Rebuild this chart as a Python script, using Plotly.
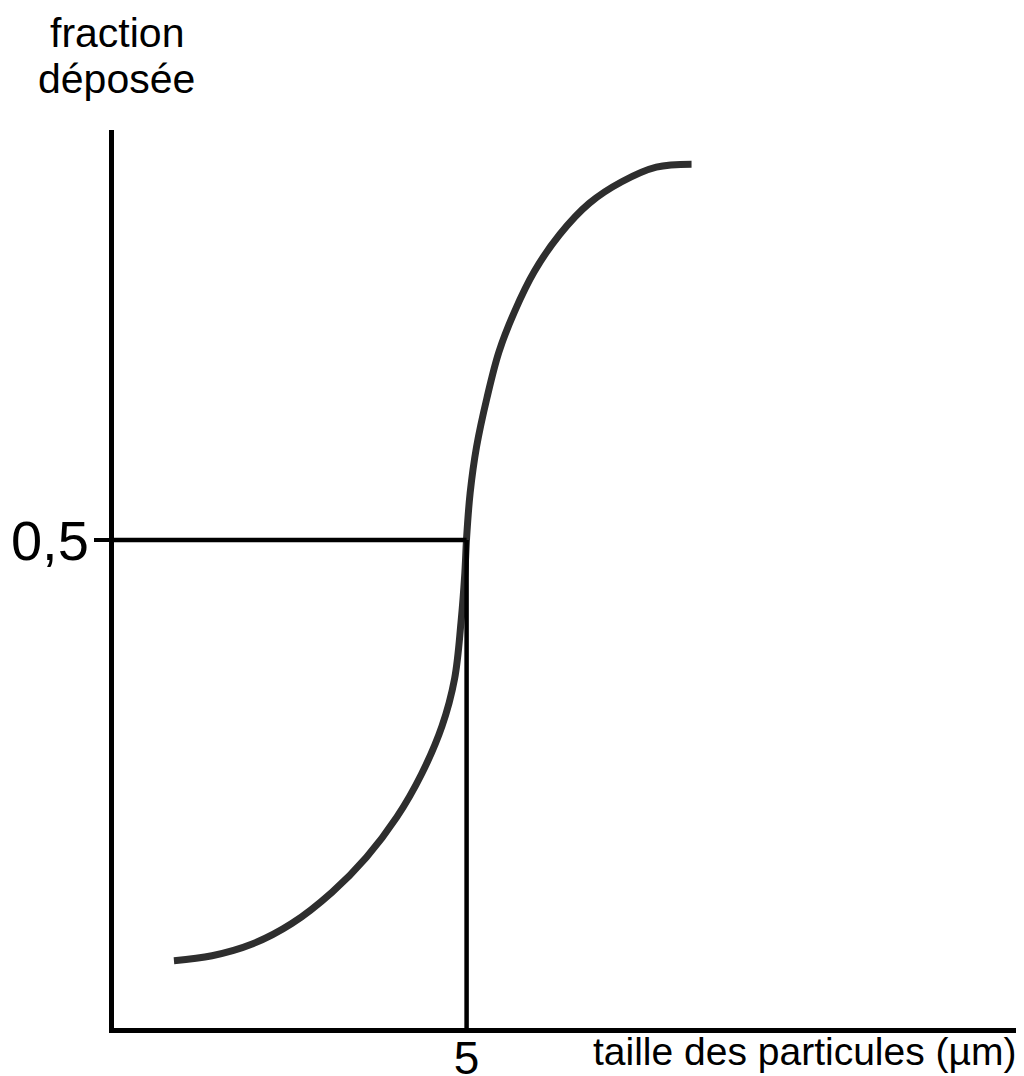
import plotly.graph_objects as go

# particle size (µm) vs deposited fraction
size_um = [0.85, 1.39, 1.96, 2.52, 3.09, 3.58, 4.01, 4.36, 4.65, 4.83, 4.92, 4.975,
           5.00, 5.05, 5.14, 5.29, 5.46, 5.68, 5.96, 6.32, 6.74, 7.20, 7.69, 8.19]
fraction = [0.069, 0.074, 0.086, 0.107, 0.139, 0.175, 0.216, 0.260, 0.309, 0.358, 0.415, 0.466,
            0.502, 0.548, 0.595, 0.646, 0.693, 0.734, 0.775, 0.813, 0.845, 0.867, 0.882, 0.885]

d50 = 5
half = 0.5
x_ticks = [5]
x_tick_labels = ["5"]
y_ticks = [0.5]
y_tick_labels = ["0,5"]
y_title_lines = ["fraction", "déposée"]
x_title = "taille des particules (µm)"

FONT = "Liberation Sans, Arial, sans-serif"

fig = go.Figure()
fig.add_trace(go.Scatter(x=size_um, y=fraction, mode="lines",
                         line=dict(color="#2e2e2e", width=7, shape="spline", smoothing=1.0),
                         hoverinfo="skip"))
fig.add_trace(go.Scatter(x=[0, d50], y=[half, half], mode="lines",
                         line=dict(color="black", width=4.5), hoverinfo="skip"))
fig.add_trace(go.Scatter(x=[d50, d50], y=[half, 0], mode="lines",
                         line=dict(color="black", width=4.5), hoverinfo="skip"))

annotations = []
for line, shift in zip(y_title_lines, [97, 51]):
    annotations.append(dict(text=line, xref="paper", yref="paper",
                            x=0.003, y=1.0, xanchor="center", yanchor="middle", yshift=shift,
                            showarrow=False, font=dict(size=41, family=FONT)))
annotations.append(dict(text=x_title, xref="paper", yref="paper",
                        x=1.0, y=0, xanchor="right", yanchor="top", yshift=0, xshift=-4,
                        showarrow=False, font=dict(size=39, family=FONT)))

fig.update_layout(
    width=1024, height=1076,
    margin=dict(l=106, r=10, t=122, b=56),
    paper_bgcolor="white", plot_bgcolor="white",
    showlegend=False,
    font=dict(family=FONT, color="black"),
    xaxis=dict(range=[0, 12.876], showgrid=False, zeroline=False, automargin=False,
               showline=True, linecolor="black", linewidth=5,
               tickmode="array", tickvals=x_ticks, ticktext=x_tick_labels,
               ticks="", ticklabelstandoff=-14, tickfont=dict(size=46, family=FONT)),
    yaxis=dict(range=[0, 0.920], showgrid=False, zeroline=False, automargin=False,
               showline=True, linecolor="black", linewidth=5,
               tickmode="array", tickvals=y_ticks, ticktext=y_tick_labels,
               ticks="outside", ticklen=15, tickwidth=4, tickcolor="black",
               ticklabelstandoff=-6, tickfont=dict(size=56, family=FONT)),
    annotations=annotations,
)

fig.write_html("out.html")
